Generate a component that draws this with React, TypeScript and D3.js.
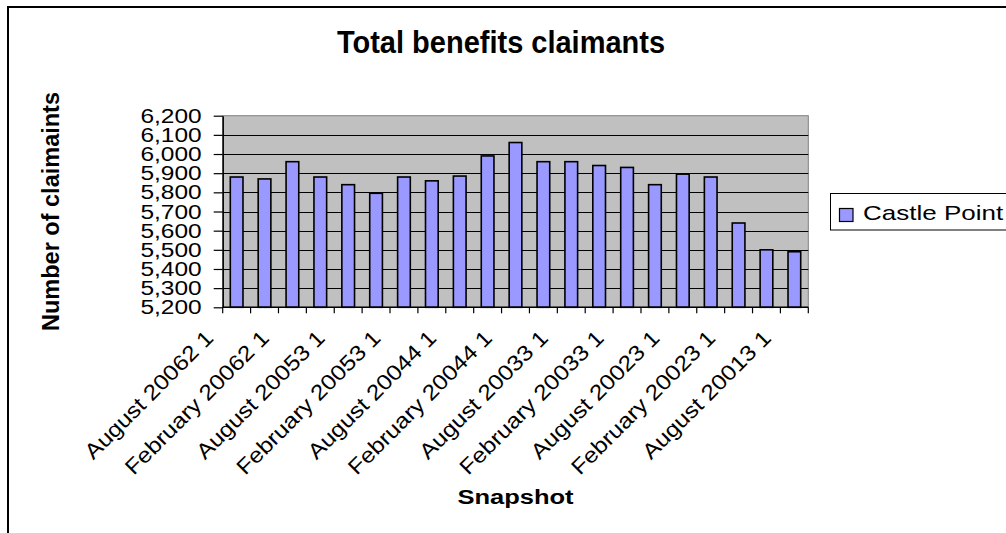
import React, { useRef, useEffect } from 'react';
import * as d3 from 'd3';

const categories = [
    'August 20062 1', 'May 20062 1', 'February 20062 1', 'November 20053 1',
    'August 20053 1', 'May 20053 1', 'February 20053 1', 'November 20044 1',
    'August 20044 1', 'May 20044 1', 'February 20044 1', 'November 20033 1',
    'August 20033 1', 'May 20033 1', 'February 20033 1', 'November 20023 1',
    'August 20023 1', 'May 20023 1', 'February 20023 1', 'November 20013 1',
    'August 20013 1',
];
const castlePoint = [
    5880, 5870, 5960, 5880, 5840, 5795, 5880, 5860, 5885, 5990, 6060,
    5960, 5960, 5940, 5930, 5840, 5895, 5880, 5640, 5500, 5490,
];
const yTickValues = [5200, 5300, 5400, 5500, 5600, 5700, 5800, 5900, 6000, 6100, 6200];
const seriesName = 'Castle Point';
const title = 'Total benefits claimants';
const xTitle = 'Snapshot';
const yTitle = 'Number of claimaints';

const FONT = '"Liberation Sans", Arial, sans-serif';

const App: React.FC = () => {
    const svgRef = useRef<SVGSVGElement | null>(null);
    const width = 1006;
    const height = 533;

    useEffect(() => {
        if (!svgRef.current) return;
        const svg = d3.select(svgRef.current);
        svg.selectAll('*').remove();

        const plot = { left: 222.7, right: 808.3, top: 115.7, bottom: 307.3 };

        // bars take ~45% of each category slot, like Excel's 120% gap width
        const x = d3.scaleBand<string>()
            .domain(categories)
            .range([plot.left, plot.right])
            .paddingInner(0.545)
            .paddingOuter(0.2725);
        const xOuter = d3.scaleBand<string>().domain(categories).range([plot.left, plot.right]);

        const y = d3.scaleLinear().domain([5200, 6200]).range([plot.bottom, plot.top]);

        // outer chart border (cropped on the right and bottom)
        svg.append('rect')
            .attr('x', 8).attr('y', 7)
            .attr('width', 1100).attr('height', 600)
            .attr('fill', 'white')
            .attr('stroke', 'black')
            .attr('stroke-width', 2);

        // plot area
        svg.append('rect')
            .attr('x', plot.left).attr('y', plot.top)
            .attr('width', plot.right - plot.left)
            .attr('height', plot.bottom - plot.top)
            .attr('fill', '#c0c0c0')
            .attr('stroke', '#808080')
            .attr('stroke-width', 1);

        svg.append('g')
            .selectAll('line')
            .data(yTickValues.slice(1, -1))
            .join('line')
            .attr('x1', plot.left).attr('x2', plot.right)
            .attr('y1', (d) => Math.round(y(d)) + 0.5)
            .attr('y2', (d) => Math.round(y(d)) + 0.5)
            .attr('stroke', '#000')
            .attr('stroke-width', 1);

        // bars
        svg.append('g')
            .selectAll('rect')
            .data(castlePoint)
            .join('rect')
            .attr('x', (_, i) => x(categories[i]) as number)
            .attr('y', (d) => y(d))
            .attr('width', x.bandwidth())
            .attr('height', (d) => plot.bottom - y(d))
            .attr('fill', '#9999ff')
            .attr('stroke', '#000')
            .attr('stroke-width', 1.6);

        // y axis
        const yAxis = d3.axisLeft(y).tickValues(yTickValues).tickSize(9).tickSizeOuter(0)
            .tickFormat((d) => d3.format(',')(d as number));
        const gy = svg.append('g')
            .attr('transform', `translate(${plot.left},0)`)
            .call(yAxis);
        gy.select('.domain').attr('stroke', '#000').attr('stroke-width', 1.5);
        gy.selectAll('.tick line').attr('stroke', '#000').attr('stroke-width', 1.2);
        gy.selectAll('.tick text')
            .attr('font-family', FONT)
            .attr('font-size', 24.5)
            .attr('fill', '#000')
            .attr('x', -21)
            .attr('y', 0)
            .attr('dy', 0)
            .attr('dominant-baseline', 'central')
            .attr('transform', 'scale(1,0.8)');

        // x axis: ticks at category boundaries
        const boundaries = categories.map((c) => xOuter(c) as number).concat([plot.right]);
        svg.append('line')
            .attr('x1', plot.left).attr('x2', plot.right)
            .attr('y1', plot.bottom).attr('y2', plot.bottom)
            .attr('stroke', '#000').attr('stroke-width', 1.5);
        svg.append('g')
            .selectAll('line')
            .data(boundaries)
            .join('line')
            .attr('x1', (d) => d).attr('x2', (d) => d)
            .attr('y1', plot.bottom).attr('y2', plot.bottom + 6)
            .attr('stroke', '#000').attr('stroke-width', 1.2);

        // x labels, every other category, rotated 45 degrees
        svg.append('g')
            .selectAll('text')
            .data(categories.filter((_, i) => i % 2 === 0))
            .join('text')
            .attr('transform', (d) => {
                const cx = (xOuter(d) as number) + xOuter.bandwidth() / 2 - 22;
                return `translate(${cx},${plot.bottom + 32}) rotate(-45) scale(1,0.88)`;
            })
            .attr('text-anchor', 'end')
            .attr('font-family', FONT)
            .attr('font-size', 24.5)
            .attr('fill', '#000')
            .text((d) => d);

        // titles
        svg.append('text')
            .attr('transform', 'translate(501,53) scale(1,1.08)')
            .attr('text-anchor', 'middle')
            .attr('font-family', FONT)
            .attr('font-weight', 'bold')
            .attr('font-size', 29)
            .text(title);

        svg.append('text')
            .attr('transform', `translate(515.5,504) scale(1,0.8)`)
            .attr('text-anchor', 'middle')
            .attr('font-family', FONT)
            .attr('font-weight', 'bold')
            .attr('font-size', 25.5)
            .text(xTitle);

        svg.append('text')
            .attr('transform', `translate(59,211.5) rotate(-90)`)
            .attr('text-anchor', 'middle')
            .attr('font-family', FONT)
            .attr('font-weight', 'bold')
            .attr('font-size', 23.5)
            .text(yTitle);

        // legend
        const legend = svg.append('g');
        legend.append('rect')
            .attr('x', 830.5).attr('y', 193.5)
            .attr('width', 300).attr('height', 36.5)
            .attr('fill', 'white')
            .attr('stroke', '#000').attr('stroke-width', 1);
        legend.append('rect')
            .attr('x', 839.5).attr('y', 208.5)
            .attr('width', 13.5).attr('height', 13)
            .attr('fill', '#9999ff')
            .attr('stroke', '#000').attr('stroke-width', 1.2);
        legend.append('text')
            .attr('transform', 'translate(863,219.5) scale(1,0.8)')
            .attr('font-family', FONT)
            .attr('font-size', 26)
            .text(seriesName);
    }, []);

    return (
        <svg
            ref={svgRef}
            width={width}
            height={height}
            style={{ position: 'absolute', left: 0, top: 0, background: 'white' }}
        />
    );
};

export default App;
